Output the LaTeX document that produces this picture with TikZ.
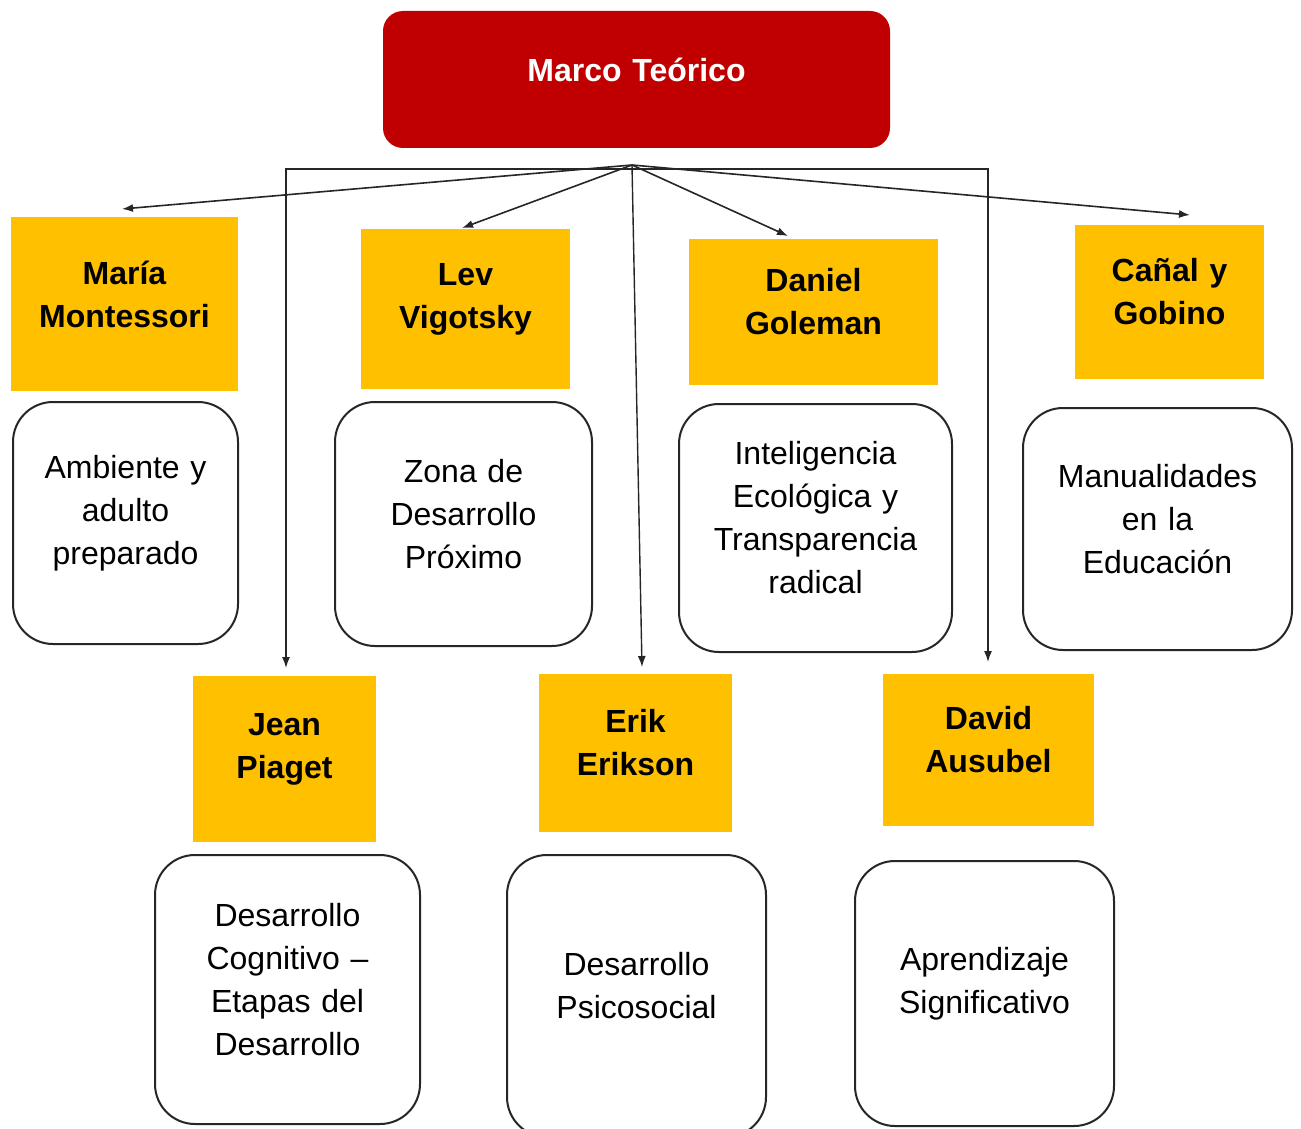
\documentclass[tikz,border=0pt]{standalone}
\usepackage{fontspec}
\setmainfont{Liberation Sans}
\usepackage{tikz}
\usetikzlibrary{arrows.meta}
\usetikzlibrary{calc}

\definecolor{titlered}{RGB}{192,0,0}
\definecolor{nameyellow}{RGB}{255,192,0}
\newcommand{\padbelow}{\par\nointerlineskip\vbox to 20pt{}}

\begin{document}
\begin{tikzpicture}[x=1pt, y=-1pt,
        title_style/.style={rectangle,rounded corners=20pt,fill=titlered,text=white,inner sep=0pt,align=center,
            font=\fontsize{32}{43}\selectfont\bfseries,execute at end node={\padbelow}},
        name_style/.style={rectangle,fill=nameyellow,inner sep=0pt,align=center,
            font=\fontsize{32}{43}\selectfont\bfseries,execute at end node={\padbelow}},
        topic_style/.style={rectangle,rounded corners=40pt,draw=black!85,line width=2pt,fill=white,inner sep=0pt,align=center,
            font=\fontsize{32}{43}\selectfont,execute at end node={\padbelow}},
        edge_style/.style={draw=black!85, line width=1.6pt,-{Latex[length=11pt,width=8pt]}},
        elbow_style/.style={draw=black!85, line width=1.4pt,-{Latex[length=11pt,width=8pt]}}]
        \useasboundingbox (0,0) rectangle (1301,1129);

        \node [title_style,text width=507pt,minimum height=137pt](marco) at (636.5,79.5) {Marco Teórico};

        \node [name_style,text width=227pt,minimum height=174pt](montessori) at (124.5,304) {María\\Montessori};
        \node [name_style,text width=209pt,minimum height=160pt](vigotsky) at (465.5,309) {Lev\\Vigotsky};
        \node [name_style,text width=249pt,minimum height=146pt](goleman) at (813.5,312) {Daniel\\Goleman};
        \node [name_style,text width=189pt,minimum height=154pt](canal) at (1169.5,302) {Cañal y\\Gobino};
        \node [name_style,text width=183pt,minimum height=166pt](piaget) at (284.5,759) {Jean\\Piaget};
        \node [name_style,text width=193pt,minimum height=158pt](erikson) at (635.5,753) {Erik\\Erikson};
        \node [name_style,text width=211pt,minimum height=152pt](ausubel) at (988.5,750) {David\\Ausubel};

        \node [topic_style,text width=225pt,minimum height=242pt](ambiente) at (125.5,523) {Ambiente y\\adulto\\preparado};
        \node [topic_style,text width=257pt,minimum height=244pt](zona) at (463.5,524) {Zona de\\Desarrollo\\Próximo};
        \node [topic_style,text width=273pt,minimum height=248pt](inteligencia) at (815.5,528) {Inteligencia\\Ecológica y\\Transparencia\\radical};
        \node [topic_style,text width=269pt,minimum height=242pt](manualidades) at (1157.5,529) {Manualidades\\en la\\Educación};
        \node [topic_style,text width=265pt,minimum height=269pt](cognitivo) at (287.5,989.5) {Desarrollo\\Cognitivo --\\Etapas del\\Desarrollo};
        \node [topic_style,text width=259pt,minimum height=282pt](psicosocial) at (636.5,996) {Desarrollo\\Psicosocial};
        \node [topic_style,text width=259pt,minimum height=265pt](aprendizaje) at (984.5,993.5) {Aprendizaje\\Significativo};

        % free ends of the arrows
        \coordinate (hub) at (632,165);
        \coordinate (split) at (632,169);
        \coordinate (m_end) at (122,209);
        \coordinate (v_end) at (462,228);
        \coordinate (g_end) at (788,236);
        \coordinate (c_end) at (1190,215);
        \coordinate (e_end) at (642,667);
        \coordinate (p_end) at (286,668);
        \coordinate (a_end) at (988,662);

        \draw [edge_style] (hub) -- (m_end);
        \draw [edge_style] (hub) -- (v_end);
        \draw [edge_style] (hub) -- (g_end);
        \draw [edge_style] (hub) -- (c_end);
        \draw [elbow_style] (hub) -- (e_end);
        \draw [elbow_style] (split) -| (p_end);
        \draw [elbow_style] (split) -| (a_end);
        \end{tikzpicture}
\end{document}
